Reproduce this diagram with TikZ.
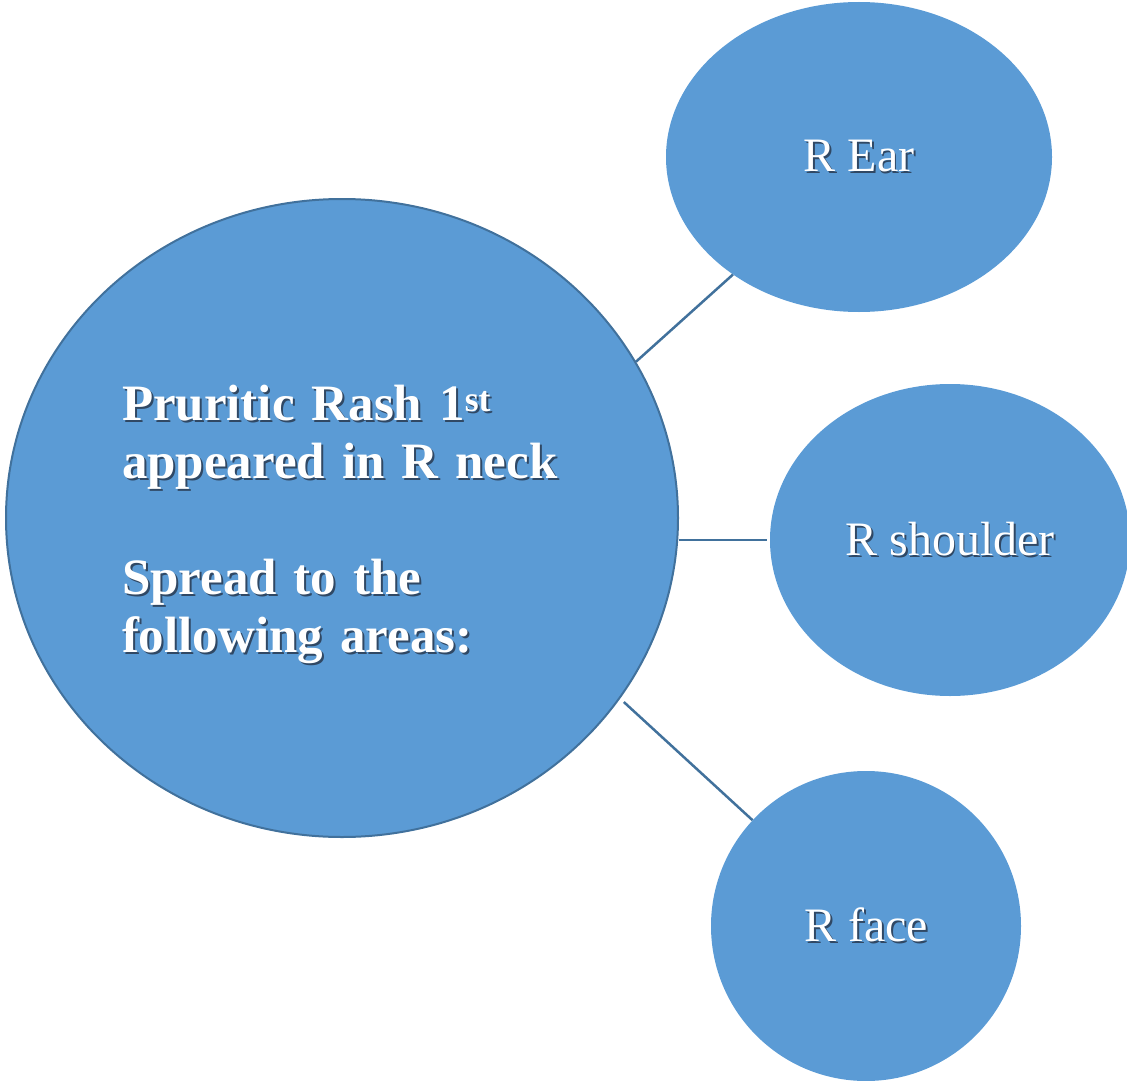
\documentclass[tikz,border=0pt]{standalone}
\usepackage{fontspec}
\setmainfont{Liberation Serif}
\usepackage{xcolor}
\usepackage{tikz}
\usetikzlibrary{shapes.geometric, positioning}

\definecolor{bubblefill}{RGB}{91,155,213}
\definecolor{bubbleline}{RGB}{65,113,156}
\definecolor{textshade}{RGB}{48,72,100}
\newcommand{\shadowed}[1]{\makebox[0pt][l]{\hspace{2pt}\raisebox{-2pt}{\color{textshade}#1}}#1}

\begin{document}
\begin{tikzpicture}[x=1pt, y=-1pt,
  bubble/.style={ellipse, fill=bubblefill, inner sep=0pt, text=white, font=\fontsize{48}{58}\selectfont},
  link/.style={draw=bubbleline, line width=2.5pt}]
\useasboundingbox (0,0) rectangle (1127,1081);

% centre bubble
\node[bubble, draw=bubbleline, line width=2pt, minimum width=672pt, minimum height=638pt,
  text width=440pt, align=left, font=\bfseries\fontsize{51}{58}\selectfont] (rash) at (342,518) {%
\rule{0pt}{50pt}\shadowed{Pruritic Rash 1\textsuperscript{st}}\\
\shadowed{appeared in R neck}\\[58pt]
\shadowed{Spread to the}\\
\shadowed{following areas:}
};

% outer bubbles
\node[bubble, minimum width=386pt, minimum height=310pt] (ear) at (859,157) {\shadowed{R Ear}};
\node[bubble, minimum width=360pt, minimum height=312pt] (shoulder) at (950,540) {\shadowed{R shoulder}};
\node[bubble, minimum width=310pt, minimum height=310pt] (face) at (866,926) {\shadowed{R face}};

% links
\draw[link] (rash.28) -- (ear.223);
\draw[link, shorten >=3pt] (rash.east |- shoulder.west) -- (shoulder.west);
\draw[link, shorten <=5pt] (rash.-33) -- (face.137);
\end{tikzpicture}
\end{document}
